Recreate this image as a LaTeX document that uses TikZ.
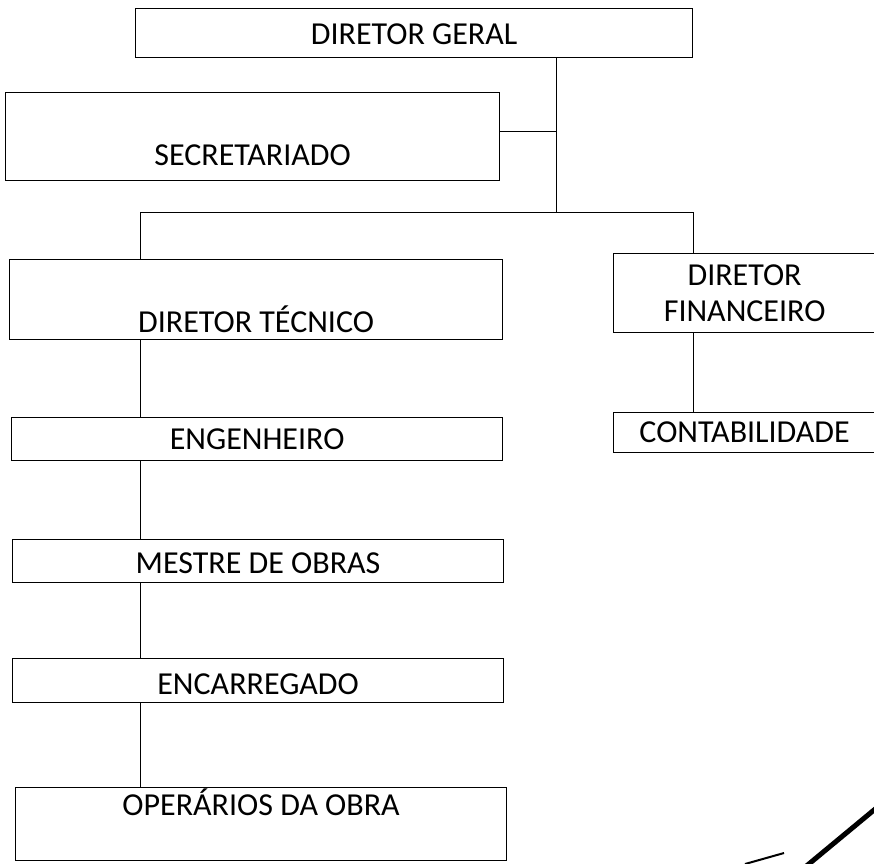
\documentclass[tikz,border=0pt]{standalone}
\usepackage{fontspec}
\setmainfont{Carlito}
\usetikzlibrary{positioning}

\begin{document}
\begin{tikzpicture}[x=1pt,y=-1pt,
    unit/.style={draw,line width=1.2pt,inner sep=0pt,anchor=north west,
      font=\fontsize{32}{36}\selectfont},
    link/.style={line width=1pt}]
  \useasboundingbox (0,0) rectangle (874,863);
  \node[unit,minimum width=557pt,text height=36pt,text depth=13pt] (geral) at (135,8) {DIRETOR GERAL};
  \node[unit,minimum width=494pt,text height=73pt,text depth=15pt] (secret) at (5,92) {SECRETARIADO};
  \node[unit,minimum width=493pt,text height=73pt,text depth=7pt] (tecnico) at (9,259) {DIRETOR TÉCNICO};
  \node[unit,minimum width=491pt,text height=32pt,text depth=11pt] (eng) at (11,417) {ENGENHEIRO};
  \node[unit,minimum width=491pt,text height=34pt,text depth=9pt] (mestre) at (12,539) {MESTRE DE OBRAS};
  \node[unit,minimum width=491pt,text height=36pt,text depth=8pt] (encar) at (12,658) {ENCARREGADO};
  \node[unit,minimum width=491pt,text height=28pt,text depth=45pt] (oper) at (15,787) {OPERÁRIOS DA OBRA};
  \node[unit,align=center,minimum width=262pt,minimum height=79pt] (financ) at (613,253) {DIRETOR\\FINANCEIRO};
  \node[unit,minimum width=262pt,minimum height=40pt] (contab) at (613,412) {CONTABILIDADE};

  \coordinate (busL) at (140,212);
  \coordinate (busM) at (556,212);
  \coordinate (busR) at (693,212);
  \draw[link] (geral.south -| busM) -- (busM);
  \draw[link] ([yshift=5pt]secret.east) -- ([yshift=5pt]secret.east -| busM);
  \draw[link] (busL) -- (busR);
  \draw[link] (busL) -- (tecnico.north -| busL);
  \draw[link] (busR) -- (financ.north -| busR);
  \foreach \a/\b in {tecnico/eng,eng/mestre,mestre/encar,encar/oper}
    \draw[link] (\a.south -| busL) -- (\b.north -| busL);
  \draw[link] (financ.south -| busR) -- (contab.north -| busR);

  \draw[line width=5pt] (804,868) -- (880,805);
  \draw[line width=2pt] (745,864) .. controls (765,859) .. (784,853);
\end{tikzpicture}
\end{document}
